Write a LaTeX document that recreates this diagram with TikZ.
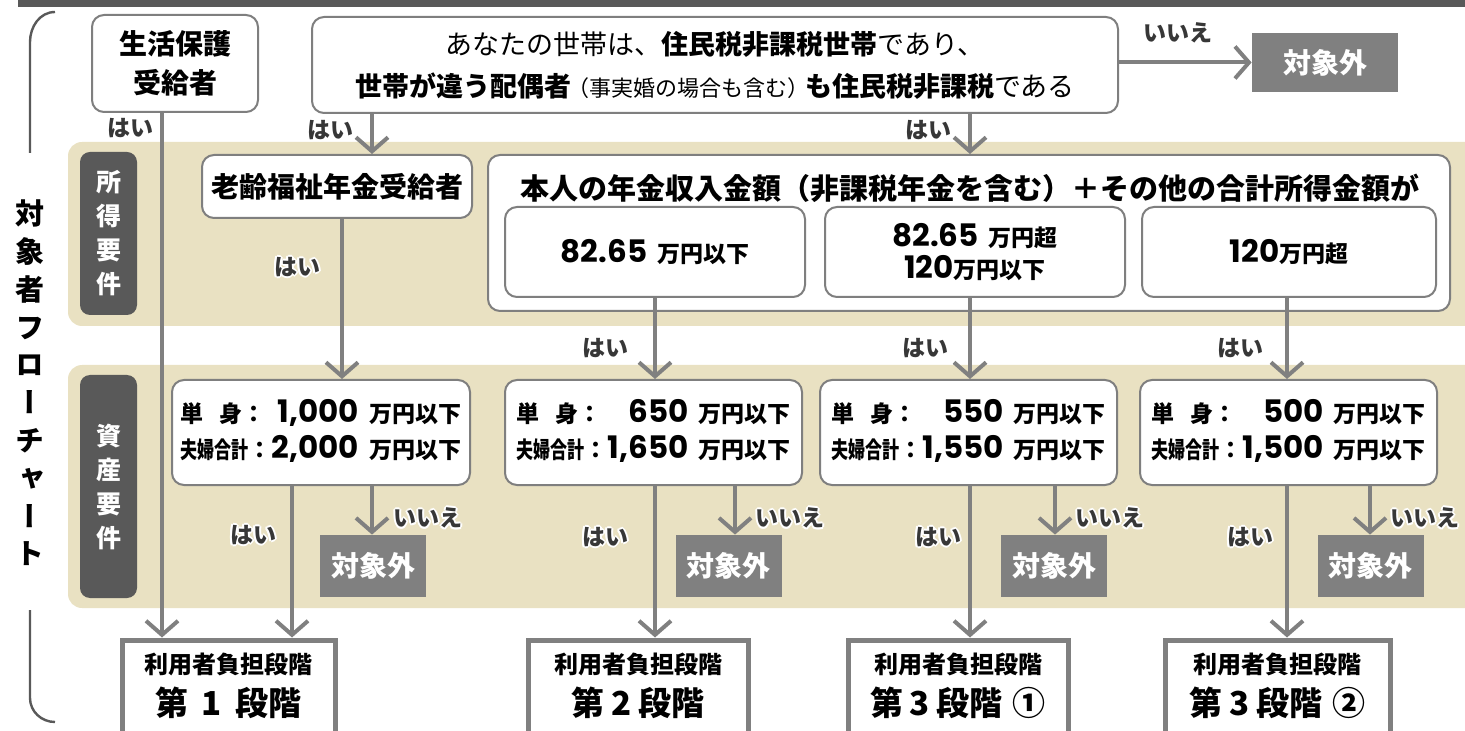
\documentclass[tikz,border=0pt]{standalone}
\usepackage{fontspec}
\usepackage{graphicx}
\setmainfont{Noto Sans CJK JP}
\newfontfamily\vfont{Noto Sans CJK JP}[RawFeature=+vert]
\newfontfamily\numfont{Poppins}
\usetikzlibrary{arrows.meta}
\definecolor{band}{RGB}{233,225,194}
\definecolor{dark}{RGB}{89,89,89}
\definecolor{lgray}{RGB}{128,128,128}
\definecolor{bord}{RGB}{127,127,127}
\definecolor{lbl}{RGB}{55,55,55}
\newcommand\halo[1]{\setbox0=\hbox{#1}%
 \rlap{\color{white}\rlap{\kern1pt\copy0}\rlap{\kern-1pt\copy0}\rlap{\raise1pt\copy0}\rlap{\lower1pt\copy0}%
 \rlap{\kern.7pt\raise.7pt\copy0}\rlap{\kern-.7pt\raise.7pt\copy0}\rlap{\kern.7pt\lower.7pt\copy0}\rlap{\kern-.7pt\lower.7pt\copy0}}\copy0}
\newcommand\num[1]{{\numfont\bfseries\fontsize{15.5}{17}\selectfont #1}}
\newcommand\unit[1]{{\bfseries\fontsize{11.5}{13}\selectfont #1}}
\newcommand\assettxt[2]{{\setlength\tabcolsep{0pt}\renewcommand\arraystretch{1}%
 \begin{tabular}{@{}l@{}r@{\hspace{5pt}}l@{}}
 {\bfseries\fontsize{11.5}{14}\selectfont 単\hspace{8pt}身：} & \num{#1} & \unit{万円以下}\\[3pt]
 {\bfseries\fontsize{11.5}{14}\selectfont \scalebox{0.74}[1]{夫婦合計}：} & \num{#2} & \unit{万円以下}
 \end{tabular}}}
\begin{document}
\begin{tikzpicture}[x=0.5pt,y=-0.5pt,
  rbox/.style={draw=bord, line width=1pt, fill=white, rounded corners=6pt, inner sep=0pt, align=center},
  outbox/.style={fill=lgray, text=white, font=\bfseries\fontsize{14}{16}\selectfont, inner sep=0pt},
  tier/.style={draw=lgray, line width=2.5pt, fill=white, inner sep=0pt},
  tiertext/.style={align=center, font=\bfseries\fontsize{12}{21}\selectfont, inner sep=0pt},
  sidelab/.style={fill=dark, rounded corners=5pt, minimum width=28.5pt, text=white, align=center, inner sep=0pt},
  conn/.style={draw=lgray, line width=2pt},
  arr/.style={conn, -{Straight Barb[length=7pt,width=16pt]}},
  lab/.style={font=\bfseries\fontsize{11.5}{13}\selectfont, text=lbl, inner sep=0pt},
]
\useasboundingbox (0,0) rectangle (1465,731);
% top bar
\fill[dark] (18,0) rectangle (1465,7);
% bands
\fill[band, rounded corners=7pt] (68,142) rectangle (1500,326);
\fill[band, rounded corners=7pt] (68,365) rectangle (1500,608);
% side labels
\node[sidelab, minimum height=81.5pt, font=\bfseries\fontsize{12.5}{17}\selectfont] (sl1) at (108.5,233.5) {所\\得\\要\\件};
\node[sidelab, minimum height=111.5pt, font=\bfseries\fontsize{12.5}{17}\selectfont] (sl2) at (108.5,486.5) {資\\産\\要\\件};
% left bracket and title
\draw[dark, line width=1.2pt] (55,12) to[out=180,in=90] (30,42) -- (30,153);
\draw[dark, line width=1.2pt] (30,610) -- (30,698) to[out=-90,in=180] (55,722);
\node[font=\vfont\bfseries\fontsize{14.5}{18.9}\selectfont, align=center, inner sep=0pt] (title) at (30,383) {対\\象\\者\\フ\\ロ\\ー\\チ\\ャ\\ー\\ト};
% column coordinates
\coordinate (xl) at (162,0);
\coordinate (xa) at (372,0);
\coordinate (xb) at (970,0);
\coordinate (xr) at (342,0);
\coordinate (h1) at (292,0);
\coordinate (h2) at (655,0);
\coordinate (h3) at (970,0);
\coordinate (h4) at (1287,0);
\coordinate (n1) at (372,0);
\coordinate (n2) at (735,0);
\coordinate (n3) at (1055,0);
\coordinate (n4) at (1370,0);
% top row
\node[rbox, minimum width=83pt, minimum height=48.5pt, font=\bfseries\fontsize{14}{19.5}\selectfont] (life) at (175,63.5) {生活保護\\受給者};
\node[rbox, minimum width=403pt, minimum height=48pt, font=\fontsize{13.5}{21}\selectfont] (q) at (715,65)
  {あなたの世帯は、{\bfseries 住民税非課税世帯}であり、\\{\bfseries 世帯が違う配偶者}{\fontsize{11}{12}\selectfont\kern-2pt（事実婚の場合も含む）\kern-2pt}{\bfseries も住民税非課税}である};
\node[outbox, minimum width=73pt, minimum height=29.5pt] (out0) at (1325,62.5) {対象外};
% income row
\node[rbox, minimum width=135pt, minimum height=31.5pt, font=\bfseries\fontsize{14}{16}\selectfont] (old) at (337,186.5) {老齢福祉年金受給者};
\node[rbox, minimum width=481pt, minimum height=78pt] (inc) at (969,233) {};
\node[font=\bfseries\fontsize{14.5}{16}\selectfont, inner sep=0pt] (inct) at (970,188) {本人の年金収入金額（非課税年金を含む）＋その他の合計所得金額が};
\node[rbox, minimum width=150pt, minimum height=45pt] (s1) at (655,252) {\num{82.65}\hspace{5pt}\unit{万円以下}};
\node[rbox, minimum width=150pt, minimum height=45pt] (s2) at (975,252) {\num{82.65}\hspace{5pt}\unit{万円超}\\[2pt]\num{120}\unit{万円以下}};
\node[rbox, minimum width=147pt, minimum height=45pt] (s3) at (1289,252) {\num{120}\unit{万円超}};
% asset row
\node[rbox, minimum width=149pt, minimum height=52.5pt] (a1) at (321,432.5) {\assettxt{1,000}{2,000}};
\node[rbox, minimum width=148.5pt, minimum height=52.5pt] (a2) at (653.5,432.5) {\assettxt{650}{1,650}};
\node[rbox, minimum width=148.5pt, minimum height=52.5pt] (a3) at (968.5,432.5) {\assettxt{550}{1,550}};
\node[rbox, minimum width=148.5pt, minimum height=52.5pt] (a4) at (1288.5,432.5) {\assettxt{500}{1,500}};
\node[outbox, minimum width=53pt, minimum height=31pt] (o1) at (373,566) {対象外};
\node[outbox, minimum width=53pt, minimum height=31pt] (o2) at (728.5,566) {対象外};
\node[outbox, minimum width=53pt, minimum height=31pt] (o3) at (1054,566) {対象外};
\node[outbox, minimum width=53pt, minimum height=31pt] (o4) at (1370.5,566) {対象外};
% tier boxes
\node[tier, minimum width=106.5pt, minimum height=55pt] (t1) at (228.5,695) {};
\node[tier, minimum width=110pt, minimum height=55pt] (t2) at (638,695) {};
\node[tier, minimum width=110pt, minimum height=55pt] (t3) at (958,695) {};
\node[tier, minimum width=112.5pt, minimum height=55pt] (t4) at (1277.5,695) {};
\node[tiertext] (tt1) at (228.5,686) {利用者負担段階\\{\fontsize{16.5}{21}\selectfont 第\hspace{.4em}1\hspace{.4em}段階}};
\node[tiertext] (tt2) at (638,686) {利用者負担段階\\{\fontsize{16.5}{21}\selectfont 第\hspace{.2em}2\hspace{.2em}段階}};
\node[tiertext] (tt3) at (958,686) {利用者負担段階\\{\fontsize{16.5}{21}\selectfont 第\hspace{.2em}3\hspace{.2em}段階\hspace{.3em}①}};
\node[tiertext] (tt4) at (1277.5,686) {利用者負担段階\\{\fontsize{16.5}{21}\selectfont 第\hspace{.2em}3\hspace{.2em}段階\hspace{.3em}②}};
% connectors
\draw[arr] (xl |- life.south) -- (xl |- t1.north);
\draw[arr] (xa |- q.south) -- (xa |- old.north);
\draw[arr] (xb |- q.south) -- (xb |- inc.north);
\draw[arr] (q.east |- out0.west) -- (out0.west);
\draw[arr] (xr |- old.south) -- (xr |- a1.north);
\draw[arr] (h2 |- s1.south) -- (h2 |- a2.north);
\draw[arr] (h3 |- s2.south) -- (h3 |- a3.north);
\draw[arr] (h4 |- s3.south) -- (h4 |- a4.north);
\draw[arr] (h1 |- a1.south) -- (h1 |- t1.north);
\draw[arr] (h2 |- a2.south) -- (h2 |- t2.north);
\draw[arr] (h3 |- a3.south) -- (h3 |- t3.north);
\draw[arr] (h4 |- a4.south) -- (h4 |- t4.north);
\draw[arr] (n1 |- a1.south) -- (n1 |- o1.north);
\draw[arr] (n2 |- a2.south) -- (n2 |- o2.north);
\draw[arr] (n3 |- a3.south) -- (n3 |- o3.north);
\draw[arr] (n4 |- a4.south) -- (n4 |- o4.north);
% labels
\node[lab] (l0) at (130,128) {\halo{はい}};
\node[lab] (l1) at (330,130) {\halo{はい}};
\node[lab] (l2) at (928,130) {\halo{はい}};
\node[lab] (l3) at (1178,33) {\halo{いいえ}};
\node[lab] (l4) at (297,267) {\halo{はい}};
\node[lab] (l5) at (605,348) {\halo{はい}};
\node[lab] (l6) at (925,348) {\halo{はい}};
\node[lab] (l7) at (1240,348) {\halo{はい}};
\node[lab] (l8) at (253,535) {\halo{はい}};
\node[lab] (l9) at (605,537) {\halo{はい}};
\node[lab] (l10) at (938,537) {\halo{はい}};
\node[lab] (l11) at (1250,537) {\halo{はい}};
\node[lab] (l12) at (428,518) {\halo{いいえ}};
\node[lab] (l13) at (790,518) {\halo{いいえ}};
\node[lab] (l14) at (1110,518) {\halo{いいえ}};
\node[lab] (l15) at (1425,518) {\halo{いいえ}};
\end{tikzpicture}
\end{document}
